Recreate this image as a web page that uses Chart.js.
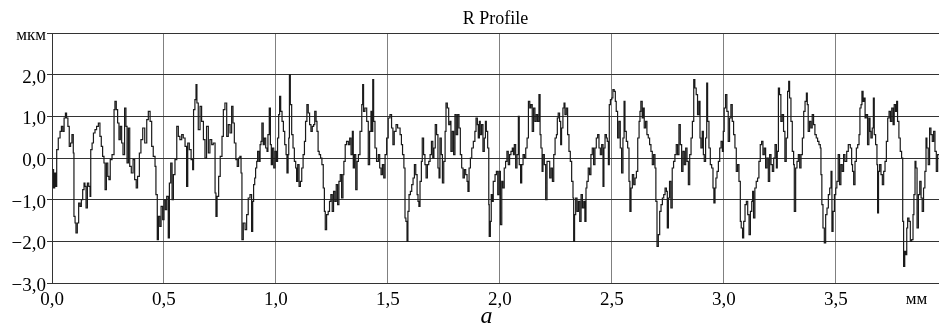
<!DOCTYPE html>
<html>
<head>
<meta charset="utf-8">
<script src="https://cdn.jsdelivr.net/npm/chart.js@4"></script>
<style>
  html, body { margin: 0; padding: 0; background: #fff; }
  #wrap { width: 939px; height: 335px; }
</style>
</head>
<body>
<div id="wrap"><canvas id="profileChart"></canvas></div>
<script>
// Profile positions along the trace (mm)
const positionsMm = [
  0.003,0.007,0.012,0.016,0.021,0.028,0.036,0.042,0.048,0.054,0.060,0.065,0.071,0.077,0.083,0.089,0.095,0.098,0.103,0.107,0.113,0.119,0.125,0.131,0.137,0.143,0.147,0.152,0.158,0.164,0.170,0.173,0.179,0.185,0.192,0.199,0.207,0.214,0.220,0.226,0.232,0.237,0.243,0.249,0.254,0.260,0.268,0.277,0.281,0.287,0.293,0.299,0.305,0.311,0.317,0.324,0.330,0.335,0.341,0.347,0.354,0.362,0.369,0.376,0.382,0.390,0.397,0.405,0.414,0.423,0.430,0.438,0.445,0.452,0.460,0.464,0.470,0.475,0.481,0.487,0.494,0.500,0.506,0.512,0.519,0.524,0.530,0.536,0.542,0.549,0.557,0.564,0.571,0.579,0.586,0.594,0.601,0.606,0.613,0.621,0.628,0.632,0.638,0.643,0.647,0.653,0.661,0.668,0.676,0.683,0.690,0.698,0.705,0.713,0.720,0.728,0.732,0.737,0.744,0.751,0.759,0.765,0.772,0.780,0.787,0.795,0.802,0.808,0.814,0.821,0.827,0.833,0.839,0.844,0.848,0.854,0.862,
  0.869,0.876,0.884,0.891,0.896,0.900,0.905,0.909,0.914,0.918,0.924,0.929,0.933,0.937,0.943,0.948,0.954,0.960,0.964,0.970,0.975,0.979,0.984,0.990,0.996,1.002,1.007,1.012,1.016,1.021,1.027,1.033,1.039,1.045,1.049,1.054,1.057,1.060,1.064,1.070,1.076,1.082,1.088,1.092,1.097,1.103,1.109,1.115,1.121,1.127,1.132,1.138,1.144,1.150,1.156,1.162,1.168,1.173,1.179,1.183,1.188,1.193,1.199,1.205,1.211,1.216,1.220,1.226,1.233,1.239,1.245,1.251,1.257,1.263,1.269,1.275,1.281,1.287,1.293,1.299,1.303,1.309,1.315,1.323,1.329,1.335,1.341,1.345,1.350,1.356,1.362,1.368,1.375,1.383,1.387,1.391,1.397,1.405,1.412,1.418,1.424,1.429,1.432,1.436,1.442,1.449,1.457,1.463,1.469,1.475,1.481,1.487,1.494,1.501,1.509,1.516,1.522,1.528,1.536,1.543,
  1.554,1.560,1.565,1.571,1.576,1.580,1.585,1.589,1.594,1.600,1.606,1.612,1.618,1.624,1.630,1.634,1.638,1.643,1.649,1.653,1.659,1.665,1.670,1.676,1.682,1.688,1.694,1.700,1.705,1.711,1.717,1.723,1.728,1.732,1.738,1.743,1.749,1.755,1.759,1.765,1.771,1.777,1.781,1.787,1.793,1.799,1.805,1.811,1.817,1.823,1.829,1.835,1.841,1.847,1.853,1.857,1.862,1.868,1.874,1.881,1.888,1.893,1.899,1.903,1.908,1.912,1.918,1.924,1.930,1.935,1.939,1.945,1.950,1.952,1.957,1.961,1.966,1.970,1.978,1.984,1.990,1.996,2.002,2.008,2.013,2.019,2.025,2.031,2.037,2.043,2.049,2.055,2.060,2.064,2.070,2.076,2.082,2.086,2.092,2.097,2.103,2.109,2.115,2.121,2.127,2.133,2.138,2.144,2.150,2.156,2.162,2.168,2.174,2.179,2.183,2.188,2.192,2.198,2.204,2.210,2.216,
  2.222,2.228,2.234,2.240,2.246,2.252,2.256,2.260,2.266,2.271,2.275,2.281,2.286,2.290,2.296,2.302,2.308,2.314,2.320,2.326,2.329,2.333,2.338,2.344,2.350,2.356,2.362,2.368,2.374,2.379,2.384,2.388,2.394,2.400,2.406,2.412,2.418,2.424,2.430,2.436,2.442,2.448,2.454,2.460,2.464,2.469,2.475,2.479,2.484,2.488,2.493,2.499,2.504,2.510,2.515,2.519,2.525,2.531,2.537,2.543,2.549,2.554,2.558,2.564,2.570,2.576,2.580,2.585,2.591,2.597,2.603,2.609,2.615,2.621,2.625,2.629,2.635,2.640,2.644,2.650,2.656,2.662,2.668,2.674,2.680,2.686,2.692,2.696,2.701,2.707,2.713,2.719,2.725,2.731,2.737,2.743,2.747,2.752,2.757,2.763,2.769,2.775,2.781,2.787,2.793,2.799,2.805,2.811,2.817,2.823,2.829,2.835,2.841,2.847,2.853,2.859,2.865,2.870,2.876,2.882,2.888,
  2.893,2.897,2.903,2.908,2.912,2.918,2.923,2.927,2.933,2.939,2.945,2.951,2.955,2.960,2.964,2.969,2.975,2.981,2.987,2.993,2.997,3.001,3.007,3.013,3.019,3.025,3.031,3.037,3.043,3.049,3.055,3.061,3.067,3.073,3.077,3.083,3.088,3.094,3.100,3.106,3.112,3.118,3.124,3.128,3.132,3.138,3.144,3.150,3.156,3.162,3.168,3.174,3.180,3.186,3.192,3.198,3.204,3.210,3.216,3.222,3.228,3.234,3.238,3.243,3.248,3.254,3.260,3.266,3.272,3.278,3.284,3.289,3.293,3.299,3.305,3.311,3.314,3.320,3.326,3.332,3.338,3.344,3.350,3.356,3.362,3.368,3.372,3.376,3.382,3.388,3.394,3.400,3.406,3.412,3.418,3.424,3.430,3.433,3.437,3.442,3.448,3.454,3.460,3.466,3.472,3.478,3.482,3.487,3.493,3.499,3.504,3.510,3.516,3.522,3.528,3.534,3.540,3.548,3.555,
  3.564,3.570,3.574,3.579,3.585,3.591,3.597,3.603,3.607,3.612,3.616,3.621,3.625,3.630,3.635,3.641,3.647,3.652,3.656,3.662,3.667,3.671,3.677,3.683,3.686,3.690,3.695,3.701,3.707,3.713,3.719,3.725,3.731,3.737,3.743,3.749,3.755,3.760,3.766,3.771,3.775,3.781,3.787,3.793,3.798,3.802,3.807,3.811,3.816,3.820,3.826,3.832,3.838,3.844,3.848,3.853,3.857,3.862,3.868,3.874,3.880,3.885,3.891,3.897,3.902,3.906,3.912,3.918,3.924,3.930,3.936,3.942,3.948,3.954,3.960
];

// Profile heights (мкм), same order as positionsMm
const heightsUm = [
  -0.28,-0.72,-0.36,-0.68,0.20,0.48,0.64,0.76,0.64,0.96,1.08,0.96,0.76,0.28,0.36,0.56,0.12,-1.40,-1.56,-1.80,-1.56,-1.08,-1.16,-1.00,-0.76,-0.60,-0.68,-1.20,-0.60,-0.68,-0.92,0.20,0.36,0.60,0.68,0.76,0.84,0.52,0.28,0.04,-0.12,-0.76,-0.12,-0.44,-0.52,-0.04,0.08,1.16,1.36,1.16,0.84,0.44,0.76,0.36,0.08,1.20,0.76,-0.12,0.72,-0.20,-0.36,-0.04,-0.52,-0.72,-0.44,0.12,0.44,0.72,0.36,0.92,1.12,0.88,0.28,0.04,-0.20,-0.88,-1.96,-1.40,-1.64,-1.16,-1.48,-1.00,-1.24,-0.92,-1.92,-0.60,-0.12,-1.00,-0.40,-0.04,0.76,0.52,0.44,0.56,0.48,0.28,-0.68,0.36,0.20,-0.04,-0.28,1.16,1.40,1.76,1.32,0.68,1.24,0.88,0.44,0.00,0.76,0.12,0.44,0.32,0.36,-0.84,-1.40,-0.92,-0.44,0.04,0.52,1.16,1.32,0.52,0.80,0.60,1.24,0.84,0.36,-0.04,-0.20,0.00,0.04,-0.36,-1.96,-1.56,-1.72,
  -1.36,-0.96,-0.88,-1.76,-1.04,-0.64,-0.48,-0.24,-0.08,0.16,-0.08,0.32,0.40,0.84,0.32,0.48,0.24,0.16,0.56,1.20,0.32,-0.16,0.24,-0.24,0.16,-0.08,0.48,1.04,1.48,1.12,0.88,0.64,0.32,0.08,-0.36,0.08,0.48,2.00,1.28,0.56,0.24,-0.08,-0.24,-0.56,-0.16,-0.68,-0.56,-0.24,0.08,0.40,0.88,1.28,1.08,0.80,0.64,0.76,0.80,1.12,0.88,0.64,0.16,0.08,0.00,-0.16,-0.72,-1.28,-1.72,-1.36,-1.28,-1.04,-0.88,-1.28,-0.80,-1.04,-0.64,-1.12,-0.56,-0.40,-0.96,-0.40,-0.08,0.32,0.40,0.32,0.48,0.08,0.64,-0.24,0.08,-0.76,-0.08,0.08,0.64,1.28,1.76,1.12,1.20,0.88,-0.16,0.64,1.12,0.64,1.88,0.88,0.24,-0.08,0.08,-0.24,-0.40,-0.16,-0.48,0.08,0.48,0.96,1.04,0.72,0.32,0.64,0.80,0.72,
  0.56,0.32,0.08,-0.24,-1.44,-1.52,-2.00,-1.28,-0.88,-0.80,-0.64,-0.48,-0.16,-0.40,-0.88,-1.04,-1.16,-0.56,-0.08,0.48,0.08,-0.16,-0.48,-0.16,-0.08,0.08,0.40,0.00,0.24,0.80,0.56,-0.24,-0.48,0.48,0.08,-0.60,-0.08,0.64,1.32,1.20,0.80,0.88,0.16,0.64,0.08,1.04,0.56,1.04,0.72,0.08,-0.24,-0.48,-0.28,-0.40,-0.56,-0.80,-0.24,0.00,0.24,0.40,0.64,0.96,0.80,0.48,0.88,0.56,0.80,0.16,0.48,0.88,0.64,0.24,-1.12,-1.88,-1.52,-0.88,-1.04,-0.56,-0.40,-0.32,-0.88,-0.32,-1.60,-0.56,-0.72,-0.24,-0.08,0.16,-0.16,0.08,0.16,0.24,0.08,0.32,-0.24,0.08,1.00,-0.16,-0.60,-0.16,0.08,0.00,0.24,0.48,1.36,1.20,1.28,0.64,1.20,0.88,1.04,0.88,1.52,0.56,0.24,-0.32,0.08,-0.16,-1.00,-0.08,-0.08,
  -0.48,-0.24,-0.56,0.08,0.48,0.56,0.96,1.08,0.88,0.32,0.72,1.20,1.32,1.04,1.20,0.56,0.16,-0.08,-0.56,-0.96,-2.00,-1.36,-0.96,-1.28,-1.04,-1.52,-0.88,-1.20,-1.04,-1.52,-0.72,-0.56,-0.24,-0.40,0.08,0.24,-0.16,0.24,0.48,0.56,0.24,0.08,0.32,-0.68,0.24,0.56,0.48,0.40,-0.16,1.28,1.40,1.44,1.64,1.60,1.36,1.12,0.48,0.88,0.24,-0.36,0.48,1.36,0.64,0.40,0.24,-0.56,-1.28,-0.72,-0.40,-0.64,-0.48,-0.32,0.48,0.88,1.12,1.36,0.96,1.20,0.72,0.88,0.56,0.48,0.32,0.16,-0.16,0.08,-0.24,-1.04,-2.12,-1.84,-1.28,-1.12,-0.96,-0.88,-0.72,-0.80,-1.68,-0.96,-0.56,-1.20,-0.24,-0.08,0.08,0.32,0.08,0.80,0.32,-0.32,0.16,-0.16,0.24,-0.08,-0.64,0.08,0.48,0.88,1.88,1.68,1.52,1.04,1.36,
  0.48,0.24,0.64,0.08,-0.08,0.48,1.80,0.88,0.24,-0.16,-0.24,-0.72,-1.08,-0.72,-0.48,-0.32,-0.08,0.24,0.40,0.16,0.64,1.20,1.52,1.12,0.40,0.96,1.28,0.88,0.56,0.24,-0.32,-0.16,-0.56,-1.52,-1.68,-1.92,-1.52,-1.12,-1.04,-1.36,-1.84,-1.28,-1.04,-0.80,-1.44,-0.72,-0.56,-0.48,-0.08,0.32,0.40,0.08,0.24,-0.24,0.00,-0.56,0.08,-0.16,-0.32,0.00,0.32,-0.24,0.16,1.68,1.52,0.88,1.04,0.64,-0.08,0.48,1.60,1.84,1.44,0.88,0.16,-0.16,-1.28,-0.24,-0.08,0.08,-0.24,0.08,0.48,1.12,1.36,1.56,1.28,0.64,0.88,0.72,1.04,0.80,0.56,0.48,0.40,0.32,0.24,-0.40,-1.12,-1.68,-2.04,-1.36,-1.20,-0.88,-0.72,-0.32,-1.76,-1.28,-0.88,-0.72,-0.56,0.08,-0.64,-0.16,-0.32,0.08,-0.08,0.16,0.32,
  0.24,-0.16,-0.32,-0.64,-0.08,0.24,0.32,0.56,1.20,1.28,1.60,1.36,1.44,0.96,1.04,0.32,0.96,0.64,0.48,0.72,1.44,0.56,0.32,-0.16,-1.32,-0.32,-0.16,-0.40,-0.64,-0.32,-0.08,0.40,0.96,1.12,0.88,1.20,0.80,1.28,1.12,1.36,0.88,0.48,0.16,0.00,-1.52,-2.60,-2.24,-2.32,-1.68,-1.44,-1.52,-2.00,-1.96,-1.36,-0.88,-0.08,-0.24,-1.68,-0.88,-0.56,-0.96,-1.28,-0.72,-0.32,0.48,0.24,-0.16,0.72,0.56,0.40,0.64,0.16,-0.32,0.08,0.08
];

// Axis ticks and units
const xTicks = [0, 0.5, 1.0, 1.5, 2.0, 2.5, 3.0, 3.5];
const xMax = 3.96;
const xUnit = 'мм';
const xUnitPos = 3.86;
const yTicks = [-3, -2, -1, 0, 1, 2, 3];
const yUnit = 'мкм';

if (positionsMm.length !== heightsUm.length) {
  console.error('Length mismatch', positionsMm.length, heightsUm.length);
}

const serif = "'Liberation Serif', 'Times New Roman', serif";
const fmt = v => (v < 0 ? '\u2212' : '') + Math.abs(v).toFixed(1).replace('.', ',');

const points = positionsMm.map((x, i) => ({ x: x, y: heightsUm[i] }));

new Chart(document.getElementById('profileChart'), {
  type: 'line',
  data: {
    datasets: [{
      data: points,
      borderColor: '#1a1a1a',
      borderWidth: 1.2,
      pointRadius: 0,
      stepped: true,
      fill: false
    }]
  },
  options: {
    responsive: true,
    maintainAspectRatio: false,
    animation: false,
    layout: { padding: 0 },
    plugins: {
      legend: { display: false },
      tooltip: { enabled: false },
      title: {
        display: true,
        fullSize: false,
        text: 'R Profile',
        color: '#000',
        font: { family: serif, size: 18, weight: 'normal' },
        padding: { top: 8, bottom: 3.4 }
      }
    },
    scales: {
      x: {
        type: 'linear',
        min: 0,
        max: xMax,
        afterBuildTicks: s => { s.ticks = xTicks.concat([xUnitPos]).map(v => ({ value: v })); },
        afterFit: s => { s.height = 52; },
        grid: {
          color: c => (c.tick && c.tick.value === xUnitPos ? 'rgba(0,0,0,0)' : '#808080'),
          drawTicks: false
        },
        border: { color: '#333' },
        ticks: {
          autoSkip: false,
          maxRotation: 0,
          padding: 6,
          color: '#000',
          font: c => (c.tick && c.tick.value === xUnitPos ? { family: serif, size: 17 } : { family: serif, size: 19 }),
          callback: v => (v === xUnitPos ? xUnit : fmt(v))
        },
        title: {
          display: true,
          text: 'а\u00A0\u00A0\u00A0',
          color: '#000',
          font: { family: serif, size: 24, style: 'italic' },
          padding: { top: 0, bottom: 4 }
        }
      },
      y: {
        min: -3,
        max: 3,
        afterBuildTicks: s => { s.ticks = yTicks.map(v => ({ value: v })); },
        afterFit: s => { s.width = 52; },
        grid: { color: '#333', tickLength: 5 },
        border: { color: '#333' },
        ticks: {
          padding: 1,
          labelOffset: 3,
          color: '#000',
          font: c => (c.tick && c.tick.value === 3 ? { family: serif, size: 17 } : { family: serif, size: 19 }),
          callback: v => (v === 3 ? yUnit : fmt(v))
        }
      }
    }
  }
});
</script>
</body>
</html>
